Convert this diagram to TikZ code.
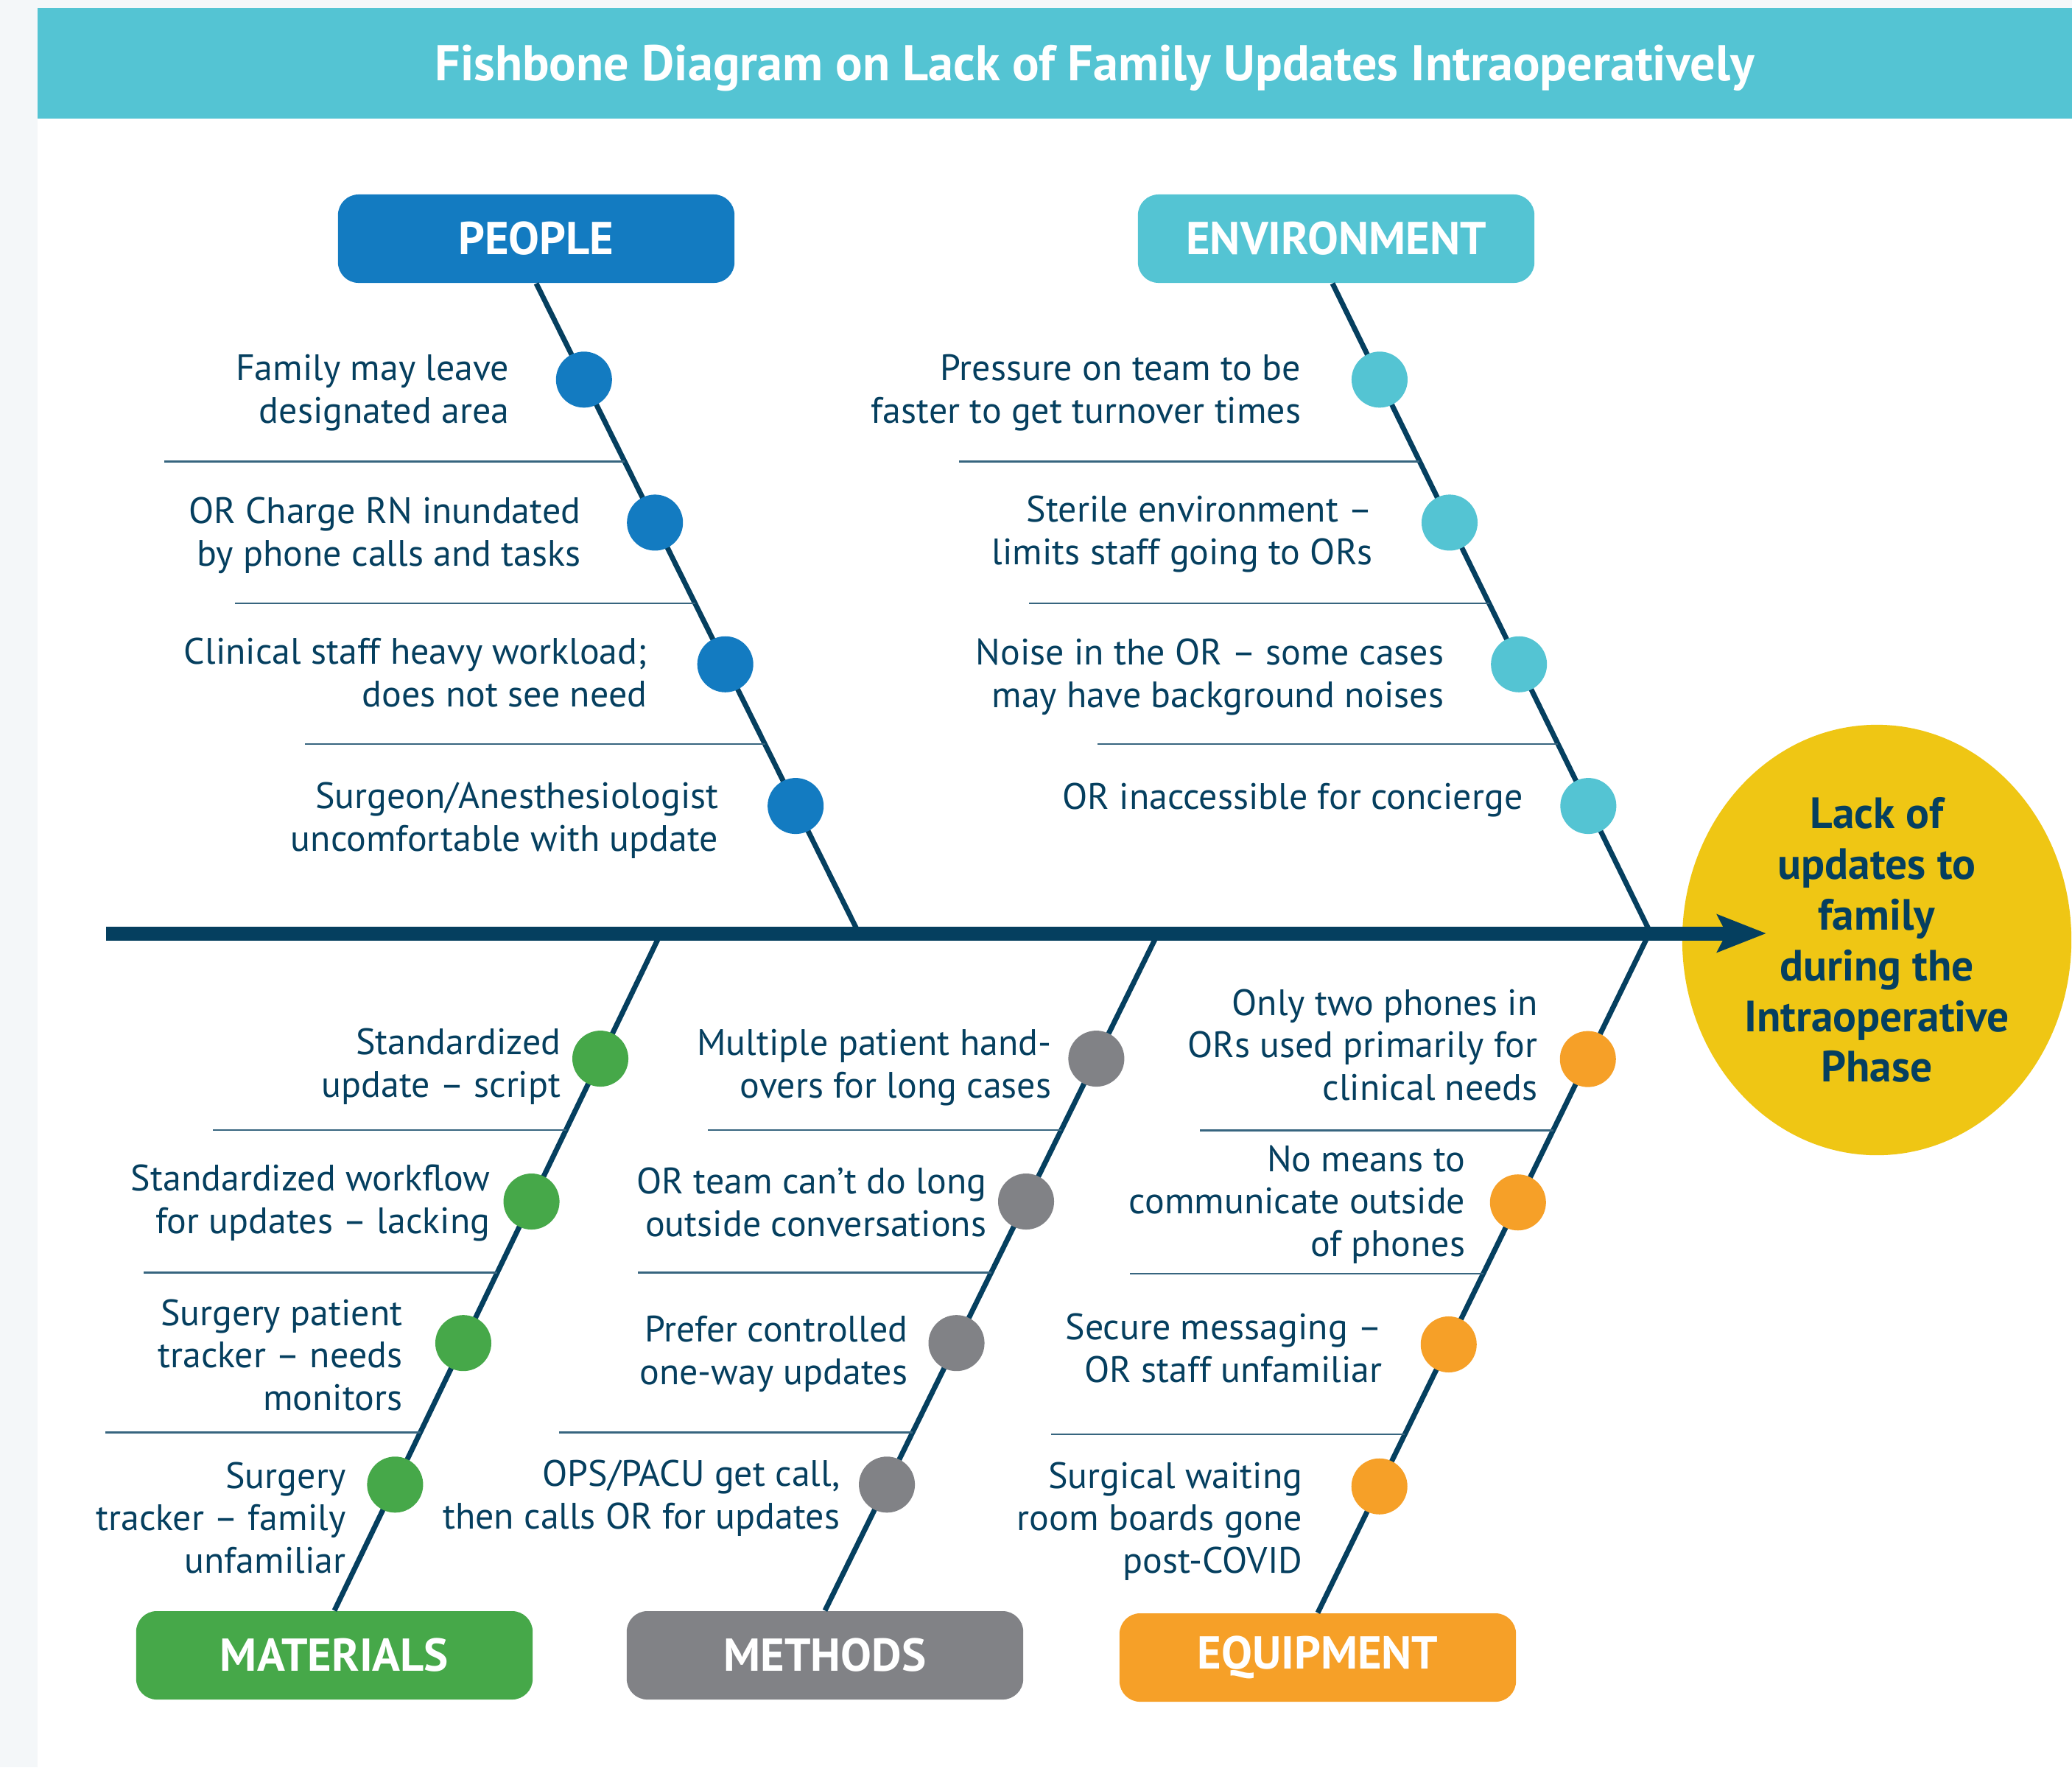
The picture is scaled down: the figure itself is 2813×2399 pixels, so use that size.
\documentclass[tikz,border=0pt]{standalone}
\usepackage{fontspec}
\setmainfont{PT Sans}
\usetikzlibrary{arrows.meta, shapes.geometric}

\definecolor{fbNavy}{HTML}{053F5F}
\definecolor{fbTeal}{HTML}{54C4D3}
\definecolor{fbBlue}{HTML}{137BC1}
\definecolor{fbGreen}{HTML}{46A849}
\definecolor{fbGray}{HTML}{818286}
\definecolor{fbOrange}{HTML}{F6A028}
\definecolor{fbYellow}{HTML}{EFC614}
\definecolor{fbPaper}{HTML}{F4F7F9}

\begin{document}
\begin{tikzpicture}[x=0.01cm, y=-0.01cm,
        catbox/.style={rectangle, rounded corners=0.28cm, minimum width=5.38cm, minimum height=1.2cm, inner sep=0pt, text=white, font=\fontsize{17.8pt}{19pt}\selectfont\bfseries},
        bone/.style={draw=fbNavy, line width=0.07cm},
        dot/.style={circle, minimum size=0.76cm, inner sep=0pt},
        sepline/.style={draw=fbNavy!80, line width=0.022cm},
        cause/.style={anchor=base east, align=right, inner sep=0pt, text=fbNavy, font=\fontsize{14.2pt}{16.3pt}\selectfont}]
        \useasboundingbox (0,0) rectangle (2813,2399);

        % Latar dan judul
        \fill [fbPaper] (0,0) rectangle (2813,2399);
        \fill [white] (51,11) rectangle (2813,2399);
        \fill [fbTeal] (51,11) rectangle (2813,161);
        \node (title) [anchor=base, text=white, font=\fontsize{19.4pt}{21pt}\selectfont\bfseries] at (1486,109) {Fishbone Diagram on Lack of Family Updates Intraoperatively};

        % Kategori (kotak-kotak)
        \node (people) [catbox, fill=fbBlue] at (728,324) {PEOPLE};
        \node (environment) [catbox, fill=fbTeal] at (1814,324) {ENVIRONMENT};
        \node (materials) [catbox, fill=fbGreen] at (454,2247) {MATERIALS};
        \node (methods) [catbox, fill=fbGray] at (1120,2247) {METHODS};
        \node (equipment) [catbox, fill=fbOrange] at (1789,2250) {EQUIPMENT};

        % Kepala ikan
        \node (effect) [ellipse, fill=fbYellow, minimum width=5.28cm, minimum height=5.84cm, inner sep=0pt, align=center, text=fbNavy, font=\fontsize{16.9pt}{19.6pt}\selectfont\bfseries] at (2548,1276) {Lack of\\updates to\\family\\during the\\Intraoperative\\Phase};

        % Titik pada tulang utama
        \coordinate (tail) at (144,1267);
        \coordinate (tip) at (2398,1267);
        \coordinate (peoS) at (1166,1267);
        \coordinate (envS) at (2241,1267);
        \coordinate (matS) at (897,1267);
        \coordinate (metS) at (1572,1267);
        \coordinate (equS) at (2239,1267);

        % Tulang cabang
        \draw [bone] (people.south) -- (peoS)
            coordinate [pos=0.148] (peo1) coordinate [pos=0.368] (peo2) coordinate [pos=0.586] (peo3) coordinate [pos=0.804] (peo4)
            coordinate [pos=0.274] (peoA) coordinate [pos=0.492] (peoB) coordinate [pos=0.709] (peoC);
        \draw [bone] ([xshift=-0.05cm]environment.south) -- (envS)
            coordinate [pos=0.148] (env1) coordinate [pos=0.368] (env2) coordinate [pos=0.586] (env3) coordinate [pos=0.804] (env4)
            coordinate [pos=0.274] (envA) coordinate [pos=0.492] (envB) coordinate [pos=0.709] (envC);
        \draw [bone] (matS) -- (materials.north)
            coordinate [pos=0.185] (mat1) coordinate [pos=0.396] (mat2) coordinate [pos=0.605] (mat3) coordinate [pos=0.814] (mat4)
            coordinate [pos=0.290] (matA) coordinate [pos=0.501] (matB) coordinate [pos=0.737] (matC);
        \draw [bone] (metS) -- (methods.north)
            coordinate [pos=0.185] (met1) coordinate [pos=0.396] (met2) coordinate [pos=0.605] (met3) coordinate [pos=0.814] (met4)
            coordinate [pos=0.290] (metA) coordinate [pos=0.501] (metB) coordinate [pos=0.737] (metC);
        \draw [bone] (equS) -- (equipment.north)
            coordinate [pos=0.185] (equ1) coordinate [pos=0.396] (equ2) coordinate [pos=0.605] (equ3) coordinate [pos=0.814] (equ4)
            coordinate [pos=0.290] (equA) coordinate [pos=0.501] (equB) coordinate [pos=0.737] (equC);

        % Garis pemisah
        \foreach \s in {peoA, peoB, peoC, envA, envB, envC}
            \draw [sepline] (\s) -- ++(-625,0);
        \foreach \s in {matA, matB, metA, metB, metC, equA, equB, equC}
            \draw [sepline] (\s) -- ++(-480,0);
        \draw [sepline] (matC) -- ++(-428,0);

        % Lingkaran
        \foreach \i in {1,...,4} {
            \node (dpeo\i) [dot, fill=fbBlue] at (peo\i) {};
            \node (denv\i) [dot, fill=fbTeal] at (env\i) {};
            \node (dmat\i) [dot, fill=fbGreen] at (mat\i) {};
            \node (dmet\i) [dot, fill=fbGray] at (met\i) {};
            \node (dequ\i) [dot, fill=fbOrange] at (equ\i) {};
        }

        % Tulang utama
        \draw [fbNavy, line width=0.19cm, -{Stealth[length=0.66cm, width=0.5cm, inset=0.12cm]}] (tail) -- (tip);

        % Penyebab (titik = garis dasar baris terakhir)
        \node (cpeo1) [cause] at (692,574) {Family may leave\\designated area};
        \node (cpeo2) [cause] at (789,768) {OR Charge RN inundated\\by phone calls and tasks};
        \node (cpeo3) [cause] at (879,959) {Clinical staff heavy workload;\\does not see need};
        \node (cpeo4) [cause] at (976,1155) {Surgeon/Anesthesiologist\\uncomfortable with update};

        \node (cenv1) [cause] at (1767,574) {Pressure on team to be\\faster to get turnover times};
        \node (cenv2) [cause] at (1864,766) {Sterile environment –\\limits staff going to ORs};
        \node (cenv3) [cause] at (1961,960) {Noise in the OR – some cases\\may have background noises};
        \node (cenv4) [cause] at (2068,1098) {OR inaccessible for concierge};

        \node (cmat1) [cause] at (762,1489) {Standardized\\update – script};
        \node (cmat2) [cause] at (666,1674) {Standardized workflow\\for updates – lacking};
        \node (cmat3) [cause] at (547,1914) {Surgery patient\\tracker – needs\\monitors};
        \node (cmat4) [cause] at (470,2135) {Surgery\\tracker – family\\unfamiliar};

        \node (cmet1) [cause] at (1428,1490) {Multiple patient hand-\\overs for long cases};
        \node (cmet2) [cause] at (1340,1678) {OR team can’t do long\\outside conversations};
        \node (cmet3) [cause] at (1233,1879) {Prefer controlled\\one-way updates};
        \node (cmet4) [cause] at (1141,2075) {OPS/PACU get call,\\then calls OR for updates};

        \node (cequ1) [cause] at (2088,1493) {Only two phones in\\ORs used primarily for\\clinical needs};
        \node (cequ2) [cause] at (1990,1705) {No means to\\communicate outside\\of phones};
        \node (cequ3) [cause] at (1877,1876) {Secure messaging –\\OR staff unfamiliar};
        \node (cequ4) [cause] at (1769,2135) {Surgical waiting\\room boards gone\\post-COVID};
    \end{tikzpicture}
\end{document}
